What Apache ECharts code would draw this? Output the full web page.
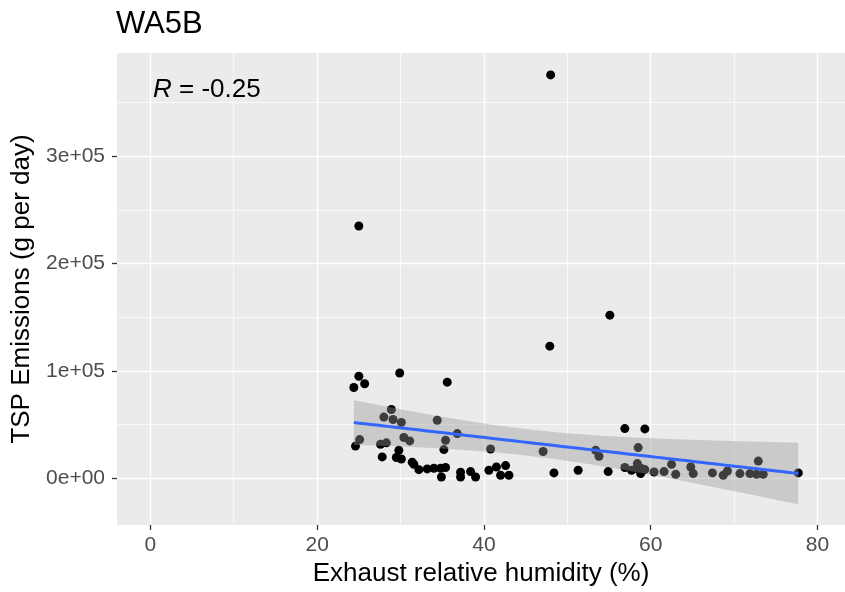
<!DOCTYPE html>
<html>
<head>
<meta charset="utf-8">
<script src="https://cdn.jsdelivr.net/npm/echarts@6/dist/echarts.min.js"></script>
<style>html,body{margin:0;padding:0;background:#fff}#c{width:845px;height:592px}</style>
</head>
<body>
<div id="c"></div>
<script>
// ---- data ----
const chartTitle = "WA5B";
const xTitle = "Exhaust relative humidity (%)";
const yTitle = "TSP Emissions (g per day)";
const corrLabel = "-0.25";
const xTicks = [0, 20, 40, 60, 80];
const yTicks = [0, 100000, 200000, 300000];
const humidity = [
  48.0, 25.0, 55.1, 47.9, 29.9, 25.0, 35.6, 25.7, 24.4, 28.9,
  28.0, 29.1, 30.1, 34.4, 36.8, 25.1, 24.6, 27.6, 28.3, 30.4,
  31.1, 35.4, 35.2, 40.8, 29.8, 27.8, 29.5, 30.1, 31.4, 31.6,
  32.2, 33.2, 34.0, 34.8, 35.4, 34.9, 37.2, 37.2, 38.4, 39.0,
  40.6, 41.5, 42.6, 42.0, 43.0, 47.1, 48.4, 51.3, 54.9, 56.9,
  59.3, 53.4, 53.8, 58.5, 56.9, 57.7, 58.4, 58.3, 58.9, 58.8,
  59.3, 60.4, 61.6, 62.5, 63.0, 64.8, 65.1, 67.4, 68.7, 69.2,
  70.7, 71.9, 72.9, 72.7, 73.5, 77.7
];
const tsp = [
  375600, 234900, 151900, 123000, 98000, 95000, 89500, 88000, 84500, 64000,
  57000, 54700, 52000, 54000, 41600, 36000, 30000, 31700, 33000, 38000,
  34800, 35400, 26700, 27300, 26000, 19900, 19300, 18000, 15000, 13000,
  8000, 8700, 9300, 9300, 10000, 1200, 5600, 1200, 6200, 1200,
  7500, 10500, 11800, 2800, 2800, 24900, 5000, 7500, 6200, 46300,
  46000, 26000, 20500, 28600, 10000, 7500, 13700, 9000, 9000, 4400,
  8100, 5900, 6200, 13000, 3700, 10500, 4400, 5000, 2800, 6800,
  4400, 4400, 16000, 3700, 3700, 5000
];

// ---- linear fit with 95% confidence band (as geom_smooth(method="lm")) ----
const n = humidity.length;
const xbar = humidity.reduce((a, b) => a + b, 0) / n;
const ybar = tsp.reduce((a, b) => a + b, 0) / n;
let sxx = 0, sxy = 0;
for (let i = 0; i < n; i++) { sxx += (humidity[i] - xbar) ** 2; sxy += (humidity[i] - xbar) * (tsp[i] - ybar); }
const slope = sxy / sxx, icpt = ybar - slope * xbar;
let sse = 0;
for (let i = 0; i < n; i++) sse += (tsp[i] - icpt - slope * humidity[i]) ** 2;
const s = Math.sqrt(sse / (n - 2));
const tq = 1.993;
const xmin = Math.min(...humidity), xmax = Math.max(...humidity);
const fitLine = [], band = [];
for (let k = 0; k < 80; k++) {
  const x = xmin + (xmax - xmin) * k / 79;
  const yhat = icpt + slope * x;
  const se = s * Math.sqrt(1 / n + (x - xbar) ** 2 / sxx);
  fitLine.push([x, yhat]);
  band.push([x, yhat - tq * se, yhat + tq * se]);
}

const points = humidity.map((h, i) => [h, tsp[i]]);

function sci(v) {
  if (v === 0) return "0e+00";
  const e = Math.floor(Math.log10(Math.abs(v)));
  const m = Math.round(v / Math.pow(10, e));
  return m + "e+" + String(e).padStart(2, "0");
}

const FONT = "Liberation Sans, Arial, sans-serif";
const chart = echarts.init(document.getElementById("c"), null, { renderer: "canvas" });
chart.setOption({
  backgroundColor: "#ffffff",
  animation: false,
  title: {
    text: chartTitle, left: 116, top: 9, padding: 0,
    textStyle: { fontFamily: FONT, fontSize: 31, fontWeight: "normal", color: "#000" }
  },
  grid: { left: 117, right: 0, top: 53, bottom: 67, containLabel: false,
          show: true, backgroundColor: "#EBEBEB", borderWidth: 0 },
  xAxis: {
    type: "value", min: -4, max: 83.3, splitNumber: 4,
    name: xTitle, nameLocation: "middle", nameGap: 35,
    nameTextStyle: { fontFamily: FONT, fontSize: 26, color: "#000" },
    axisLine: { show: false, onZero: false },
    axisTick: { show: true, length: 5, lineStyle: { color: "#333", width: 1.3 },
                customValues: xTicks },
    axisLabel: { fontFamily: FONT, fontSize: 21, color: "#4D4D4D", margin: 10,
                 customValues: xTicks },
    splitLine: { show: true, lineStyle: { color: "#ffffff", width: 1.4 } },
    minorTick: { show: false, splitNumber: 2 },
    minorSplitLine: { show: true, lineStyle: { color: "#ffffff", width: 0.7 } }
  },
  yAxis: {
    type: "value", min: -43500, max: 396000, splitNumber: 4,
    name: yTitle, nameLocation: "middle", nameGap: 74,
    nameTextStyle: { fontFamily: FONT, fontSize: 26, color: "#000" },
    axisLine: { show: false, onZero: false },
    axisTick: { show: true, length: 5, lineStyle: { color: "#333", width: 1.3 },
                customValues: yTicks },
    axisLabel: { fontFamily: FONT, fontSize: 21, color: "#4D4D4D", margin: 12,
                 customValues: yTicks, formatter: v => sci(v) },
    splitLine: { show: true, lineStyle: { color: "#ffffff", width: 1.4 } },
    minorTick: { show: false, splitNumber: 2 },
    minorSplitLine: { show: true, lineStyle: { color: "#ffffff", width: 0.7 } }
  },
  graphic: [{
    type: "text", left: 153, top: 77, z: 100,
    style: {
      text: "{i|R} = " + corrLabel,
      rich: { i: { fontStyle: "italic", fontFamily: FONT, fontSize: 26, fill: "#000" } },
      fontFamily: FONT, fontSize: 26, fill: "#000"
    }
  }],
  series: [
    {
      type: "scatter", data: points, symbol: "circle", symbolSize: 9, z: 2,
      itemStyle: { color: "#000000", opacity: 1 }, silent: true
    },
    {
      type: "custom", z: 3, clip: true, silent: true, data: band,
      encode: { x: 0, y: [1, 2] },
      renderItem: function (params, api) {
        if (params.dataIndex !== 0) return null;
        const pts = [];
        for (let i = 0; i < band.length; i++) pts.push(api.coord([band[i][0], band[i][2]]));
        for (let i = band.length - 1; i >= 0; i--) pts.push(api.coord([band[i][0], band[i][1]]));
        return { type: "polygon", shape: { points: pts },
                 style: { fill: "rgba(153,153,153,0.4)", stroke: null } };
      }
    },
    {
      type: "line", data: fitLine, showSymbol: false, z: 4, silent: true,
      lineStyle: { color: "#3366FF", width: 3 }
    }
  ]
});
</script>
</body>
</html>
